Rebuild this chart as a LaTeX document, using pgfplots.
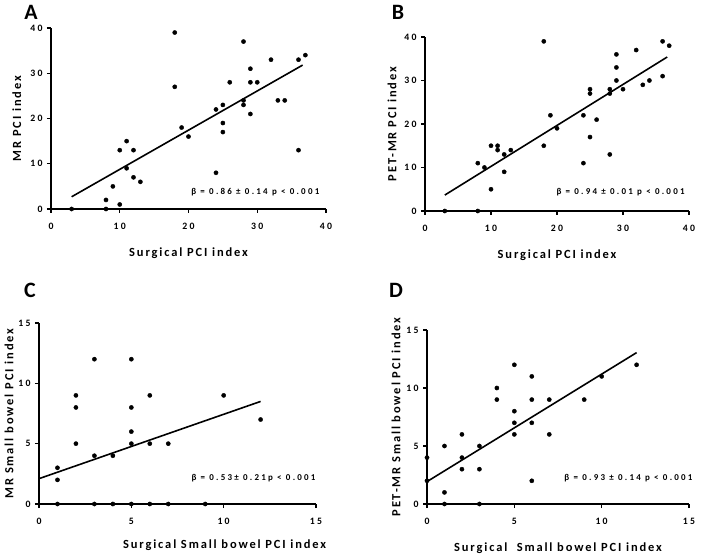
\documentclass[border=0pt]{standalone}
\usepackage{pgfplots}
\pgfplotsset{compat=1.18}
\usepackage{fontspec}
\setmainfont{Carlito}
\newfontfamily\tickfont{Carlito}[LetterSpace=22]
\newfontfamily\labfont{Carlito}[LetterSpace=15]
\newfontfamily\annfont{Carlito}[LetterSpace=25]
\pgfplotsset{
  gp/.style={
    scale only axis,
    axis x line*=bottom, axis y line*=left,
    axis line style={line width=1.7bp, black},
    tick style={line width=1.4bp, black},
    major tick length=4bp,
    tick align=outside,
    clip=false,
    /pgf/number format/assume math mode=true,
    ticklabel style={font=\tickfont\bfseries\fontsize{9.8}{9.8}\selectfont},
    xticklabel style={yshift=-7bp},
    yticklabel style={xshift=-1bp},
    label style={font=\labfont\bfseries\fontsize{12.5}{12.5}\selectfont},
  },
  pts/.style={only marks, mark=*, mark size=2.1bp, black},
  fit/.style={line width=1.6bp, black},
}
\tikzset{ann/.style={anchor=west, font=\annfont\bfseries\fontsize{9}{9}\selectfont}}
\begin{document}
\begin{tikzpicture}
\path[use as bounding box] (0,0) rectangle (709bp,557bp);
% Panel letters
\node[font=\bfseries\fontsize{22}{22}\selectfont] at (31bp,545bp) {A};
\node[font=\bfseries\fontsize{22}{22}\selectfont] at (398bp,545bp) {B};
\node[font=\bfseries\fontsize{22}{22}\selectfont] at (30bp,267bp) {C};
\node[font=\bfseries\fontsize{22}{22}\selectfont] at (396bp,267bp) {D};

% A
\begin{axis}[gp, at={(51bp,348bp)}, anchor=south west, width=275bp, height=181bp,
  xmin=0, xmax=40, ymin=0, ymax=40, xtick={0,10,20,30,40}, ytick={0,10,20,30,40},
  xlabel={Surgical PCI index}, ylabel={MR PCI index},
  xlabel style={at={(axis description cs:0.5,-0.243)}, anchor=center},
  ylabel style={at={(axis description cs:-0.124,0.5)}, anchor=center, rotate=0}]
\addplot[pts] coordinates {
(3,0) (8,2) (8,0) (9,5) (10,13) (10,1) (11,15) (11,9) (12,13) (12,7) (13,6)
(18,39) (18,27) (19,18) (20,16) (24,22) (24,8) (25,23) (25,19) (25,17) (26,28)
(28,37) (28,24) (28,23) (29,31) (29,28) (29,21) (30,28) (32,33) (33,24) (34,24)
(36,33) (36,13) (37,34)};
\addplot[fit] coordinates {(3,2.7) (36.6,31.8)};
\node[ann] at (axis cs:19.9,3.8) {β = 0.86 ± 0.14 p < 0.001};
\end{axis}

% B
\begin{axis}[gp, at={(425bp,346bp)}, anchor=south west, width=264bp, height=174bp,
  xmin=0, xmax=40, ymin=0, ymax=40, xtick={0,10,20,30,40}, ytick={0,10,20,30,40},
  xlabel={Surgical PCI index}, ylabel={PET-MR PCI index},
  xlabel style={at={(axis description cs:0.5,-0.253)}, anchor=center},
  ylabel style={at={(axis description cs:-0.125,0.5)}, anchor=center, rotate=0}]
\addplot[pts] coordinates {
(3,0) (8,0) (8,11) (9,10) (10,15) (10,5) (11,15) (11,14) (12,13) (12,9) (13,14)
(18,39) (18,15) (19,22) (20,19) (24,22) (24,11) (25,28) (25,27) (25,17) (26,21)
(28,28) (28,27) (28,13) (29,36) (29,33) (29,30) (30,28) (32,37) (33,29) (34,30)
(36,39) (36,31) (37,38)};
\addplot[fit] coordinates {(3,3.66) (36.7,35.4)};
\node[ann] at (axis cs:19.4,4.4) {β = 0.94 ± 0.01 p < 0.001};
\end{axis}

% C
\begin{axis}[gp, at={(39bp,53bp)}, anchor=south west, width=277bp, height=181bp,
  xmin=0, xmax=15, ymin=0, ymax=15, xtick={0,5,10,15}, ytick={0,5,10,15},
  xlabel={Surgical Small bowel PCI index}, ylabel={MR Small bowel PCI index},
  xlabel style={at={(axis description cs:0.67,-0.227)}, anchor=center},
  ylabel style={at={(axis description cs:-0.108,0.5)}, anchor=center, rotate=0}]
\addplot[pts] coordinates {
(1,3) (1,2) (1,0) (2,9) (2,8) (2,5) (3,12) (3,4) (3,0) (4,4) (4,0)
(5,12) (5,8) (5,6) (5,5) (5,0) (6,9) (6,5) (6,0) (7,5) (7,0) (9,0) (10,9) (12,7)};
\addplot[fit] coordinates {(0,2.1) (12,8.5)};
\node[ann] at (axis cs:8.07,2.15) {β = 0.53± 0.21p < 0.001};
\end{axis}

% D
\begin{axis}[gp, at={(427bp,53bp)}, anchor=south west, width=262bp, height=174bp,
  xmin=0, xmax=15, ymin=0, ymax=15, xtick={0,5,10,15}, ytick={0,5,10,15},
  xlabel={Surgical\ \ Small bowel PCI index}, ylabel={PET-MR Small bowel PCI index},
  xlabel style={at={(axis description cs:0.5,-0.253)}, anchor=center},
  ylabel style={at={(axis description cs:-0.118,0.5)}, anchor=center, rotate=0}]
\addplot[pts] coordinates {
(0,4) (0,2) (1,5) (1,1) (1,0) (2,6) (2,4) (2,3) (3,5) (3,3) (3,0)
(4,10) (4,9) (5,12) (5,8) (5,7) (5,6) (6,11) (6,9) (6,7) (6,2) (7,9) (7,6)
(9,9) (10,11) (12,12)};
\addplot[fit] coordinates {(0,1.93) (12,13.05)};
\node[ann] at (axis cs:7.67,2.24) {β = 0.93 ± 0.14 p < 0.001};
\end{axis}
\end{tikzpicture}
\end{document}
